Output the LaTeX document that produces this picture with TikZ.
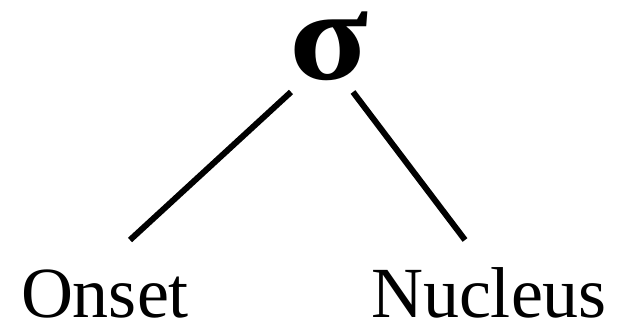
\documentclass[tikz,border=0pt]{standalone}
\usepackage{graphicx}
\usepackage{fontspec}
\setmainfont{Liberation Serif}
\begin{document}
\begin{tikzpicture}[x=1pt,y=1pt,
  lbl/.style={font=\fontsize{72}{80}\selectfont, inner sep=2pt, anchor=base},
  sig/.style={font=\fontsize{130}{140}\selectfont\bfseries, inner sep=2pt, anchor=base},
  branch/.style={line width=6pt}]
\useasboundingbox (0,0) rectangle (619,328);
\node[sig] (sigma) at (329,248) {\scalebox{1.12}[1]{σ}};
\node[lbl] (onset) at (105,10) {Onset};
\node[lbl] (nucleus) at (489,10) {Nucleus};
\coordinate (l1) at (291,236);
\coordinate (l2) at (130,88);
\coordinate (r1) at (353,236);
\coordinate (r2) at (465,88);
\draw[branch] (l1) -- (l2);
\draw[branch] (r1) -- (r2);
\end{tikzpicture}
\end{document}
